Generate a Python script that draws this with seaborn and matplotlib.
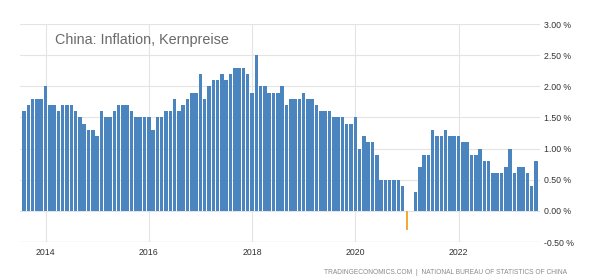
import numpy as np
import matplotlib
matplotlib.use("Agg")
import matplotlib.pyplot as plt
import seaborn as sns
import pandas as pd

# China core inflation (Kernpreise), y/y %, monthly from Aug 2013 to Jul 2023
start_month = "2013-08"
values = [
    1.6, 1.7, 1.8, 1.8, 1.8,
    2.0, 1.7, 1.7, 1.6, 1.7, 1.7, 1.7, 1.6, 1.5, 1.4, 1.3, 1.3,
    1.2, 1.6, 1.5, 1.5, 1.6, 1.7, 1.7, 1.7, 1.6, 1.5, 1.5, 1.5,
    1.5, 1.3, 1.5, 1.5, 1.6, 1.6, 1.8, 1.6, 1.7, 1.8, 1.9, 1.9,
    2.2, 1.8, 2.0, 2.1, 2.1, 2.2, 2.1, 2.2, 2.3, 2.3, 2.3, 2.2,
    1.9, 2.5, 2.0, 2.0, 1.9, 1.9, 1.9, 2.0, 1.7, 1.8, 1.8, 1.8,
    1.9, 1.8, 1.8, 1.7, 1.6, 1.6, 1.6, 1.5, 1.5, 1.5, 1.4, 1.4,
    1.5, 1.0, 1.2, 1.1, 1.1, 0.9, 0.5, 0.5, 0.5, 0.5, 0.5, 0.4,
    -0.3, 0.0, 0.3, 0.7, 0.9, 0.9, 1.3, 1.2, 1.2, 1.3, 1.2, 1.2,
    1.2, 1.1, 1.1, 0.9, 0.9, 1.0, 0.8, 0.8, 0.6, 0.6, 0.6, 0.7,
    1.0, 0.6, 0.7, 0.7, 0.6, 0.4, 0.8,
]
year_ticks = [2014, 2016, 2018, 2020, 2022]
y_ticks = [-0.5, 0.0, 0.5, 1.0, 1.5, 2.0, 2.5, 3.0]
title = "China: Inflation, Kernpreise"
source = "TRADINGECONOMICS.COM  |  NATIONAL BUREAU OF STATISTICS OF CHINA"

dates = pd.date_range(start_month, periods=len(values), freq="MS")
df = pd.DataFrame({
    "t": np.round(dates.year + (dates.month - 1) / 12, 4),
    "v": values,
})
df["sign"] = np.where(df["v"] < 0, "neg", "pos")

sns.set_style("white")
plt.rcParams["font.family"] = ["Liberation Sans", "DejaVu Sans"]

fig = plt.figure(figsize=(5.98, 2.8), dpi=100)
ax = fig.add_axes([20 / 598, 1 - 242 / 280, 520 / 598, 218 / 280])

sns.barplot(data=df, x="t", y="v", hue="sign",
            palette={"pos": "#4a85bf", "neg": "#f2a93b"},
            native_scale=True, dodge=False, width=0.82,
            saturation=1, legend=False, ax=ax, linewidth=0)

# the negative bar is drawn as a thin stroke in the original
for p in ax.patches:
    if p.get_height() < 0:
        cx = p.get_x() + p.get_width() / 2
        p.set_width(0.035)
        p.set_x(cx - 0.0175)

ax.set_xlim(2013.506, 2023.578)
ax.set_ylim(-0.5, 3.0)
ax.set_xticks(year_ticks)
ax.set_xticklabels([str(y) for y in year_ticks])
ax.set_yticks(y_ticks)
ax.set_yticklabels([f"{y:.2f} %" for y in y_ticks])
ax.yaxis.tick_right()
ax.set_xlabel("")
ax.set_ylabel("")

ax.grid(True, color="#e4e4e4", linewidth=0.8)
ax.set_axisbelow(True)
for s in ax.spines.values():
    s.set_visible(False)
ax.axhline(-0.5, color="#d8d8d8", linewidth=0.9, zorder=0)

ax.tick_params(axis="y", length=0, pad=3, labelsize=6.3, labelcolor="#333333")
ax.tick_params(axis="x", length=3, color="#e4e4e4", pad=1,
               labelsize=6.3, labelcolor="#333333")

ax.text(0.067, 0.927, title, transform=ax.transAxes, fontsize=10.4,
        color="#6a6a6a", va="center", ha="left")
fig.text(567 / 598, 1 - 273 / 280, source, fontsize=4.8, color="#8a8a8a",
         ha="right", va="center")

fig.savefig("out.png", dpi=100, facecolor="white")
